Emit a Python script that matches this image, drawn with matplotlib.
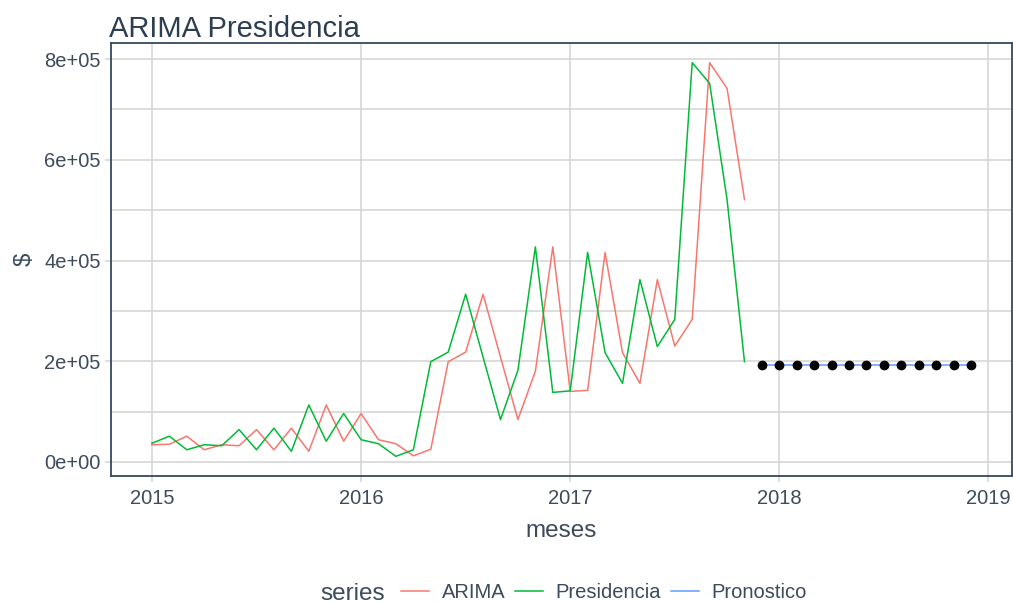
import numpy as np
import matplotlib.pyplot as plt
from matplotlib.lines import Line2D

plt.rcParams['font.family'] = ['Liberation Sans', 'DejaVu Sans']

# meses: 0 = ene 2015
meses_pres = np.arange(0, 35)
presidencia = [37000, 51000, 24000, 34000, 32000, 64000, 24000, 67000, 21000, 113000, 41000, 96000,
               44000, 36000, 11000, 24000, 199000, 218000, 333000, 208000, 84000, 182000, 427000, 138000,
               141000, 416000, 217000, 156000, 362000, 229000, 283000, 793000, 752000, 521000, 199000]
meses_arima = np.arange(0, 35)
arima = [34000, 35000, 51000, 24000, 34000, 32000, 64000, 24000, 67000, 21000, 113000, 41000,
         96000, 44000, 36000, 12000, 25000, 199000, 218000, 333000, 208000, 84000, 180000, 427000,
         140000, 142000, 416000, 217000, 156000, 362000, 230000, 283000, 793000, 742000, 521000]
meses_pron = np.arange(35, 48)
pronostico = [193000] * 13

col_arima = '#F8766D'
col_pres = '#00BA38'
col_pron = '#619CFF'
txt = '#3D4B5B'
grid = '#D3D3D3'

fig = plt.figure(figsize=(10.13, 6.03), dpi=100)
ax = fig.add_axes([111 / 1013, 1 - 476 / 603, (1012 - 111) / 1013, (476 - 43) / 603])

def yr(m):
    return 2015 + np.asarray(m) / 12.0

ax.plot(yr(meses_arima), arima, color=col_arima, lw=1.1, zorder=3)
ax.plot(yr(meses_pres), presidencia, color=col_pres, lw=1.1, zorder=3)
ax.plot(yr(meses_pron), pronostico, color=col_pron, lw=1.1, zorder=3)
ax.plot(yr(meses_pron), pronostico, 'o', color='black', ms=6, zorder=4)

x0, x1 = yr(0), yr(47)
ax.set_xlim(x0 - 0.05 * (x1 - x0), x1 + 0.05 * (x1 - x0))
allv = arima + presidencia + pronostico
lo, hi = min(allv), max(allv)
ax.set_ylim(lo - 0.05 * (hi - lo), hi + 0.05 * (hi - lo))

ax.set_xticks([2015, 2016, 2017, 2018, 2019])
ax.set_xticklabels(['2015', '2016', '2017', '2018', '2019'])
ax.set_yticks([0, 2e5, 4e5, 6e5, 8e5])
ax.set_yticklabels(['0e+00', '2e+05', '4e+05', '6e+05', '8e+05'])
ax.set_yticks([1e5, 3e5, 5e5, 7e5], minor=True)
ax.grid(True, which='major', color=grid, lw=1.1, zorder=0)
ax.grid(True, which='minor', axis='y', color=grid, lw=1.1, zorder=0)
ax.tick_params(axis='both', which='major', colors=grid, labelcolor=txt, labelsize=14.5,
               length=4, width=1.1)
ax.tick_params(axis='x', which='major', pad=5)
ax.tick_params(axis='y', which='minor', length=0)
for s in ax.spines.values():
    s.set_color('#34495E')
    s.set_linewidth(1.3)

ax.set_xlabel('meses', fontsize=17.5, color=txt, labelpad=9)
ax.set_ylabel('$', fontsize=17.5, color=txt, labelpad=6)
ax.set_title('ARIMA Presidencia', fontsize=21, color='#2C3E50', loc='left', x=-0.002, pad=4)

fig.text(320 / 1013, 1 - 594 / 603, 'series', fontsize=17.5, color=txt, va='center')
handles = [Line2D([], [], color=col_arima, lw=1.1),
           Line2D([], [], color=col_pres, lw=1.1),
           Line2D([], [], color=col_pron, lw=1.1)]
fig.legend(handles, ['ARIMA', 'Presidencia', 'Pronostico'], loc='center',
           bbox_to_anchor=(604 / 1013, 1 - 593 / 603), ncol=3, frameon=False,
           fontsize=14.5, labelcolor=txt, handlelength=1.4, handletextpad=0.6,
           columnspacing=0.5, borderpad=0.2)

fig.savefig('out.png', dpi=100)
